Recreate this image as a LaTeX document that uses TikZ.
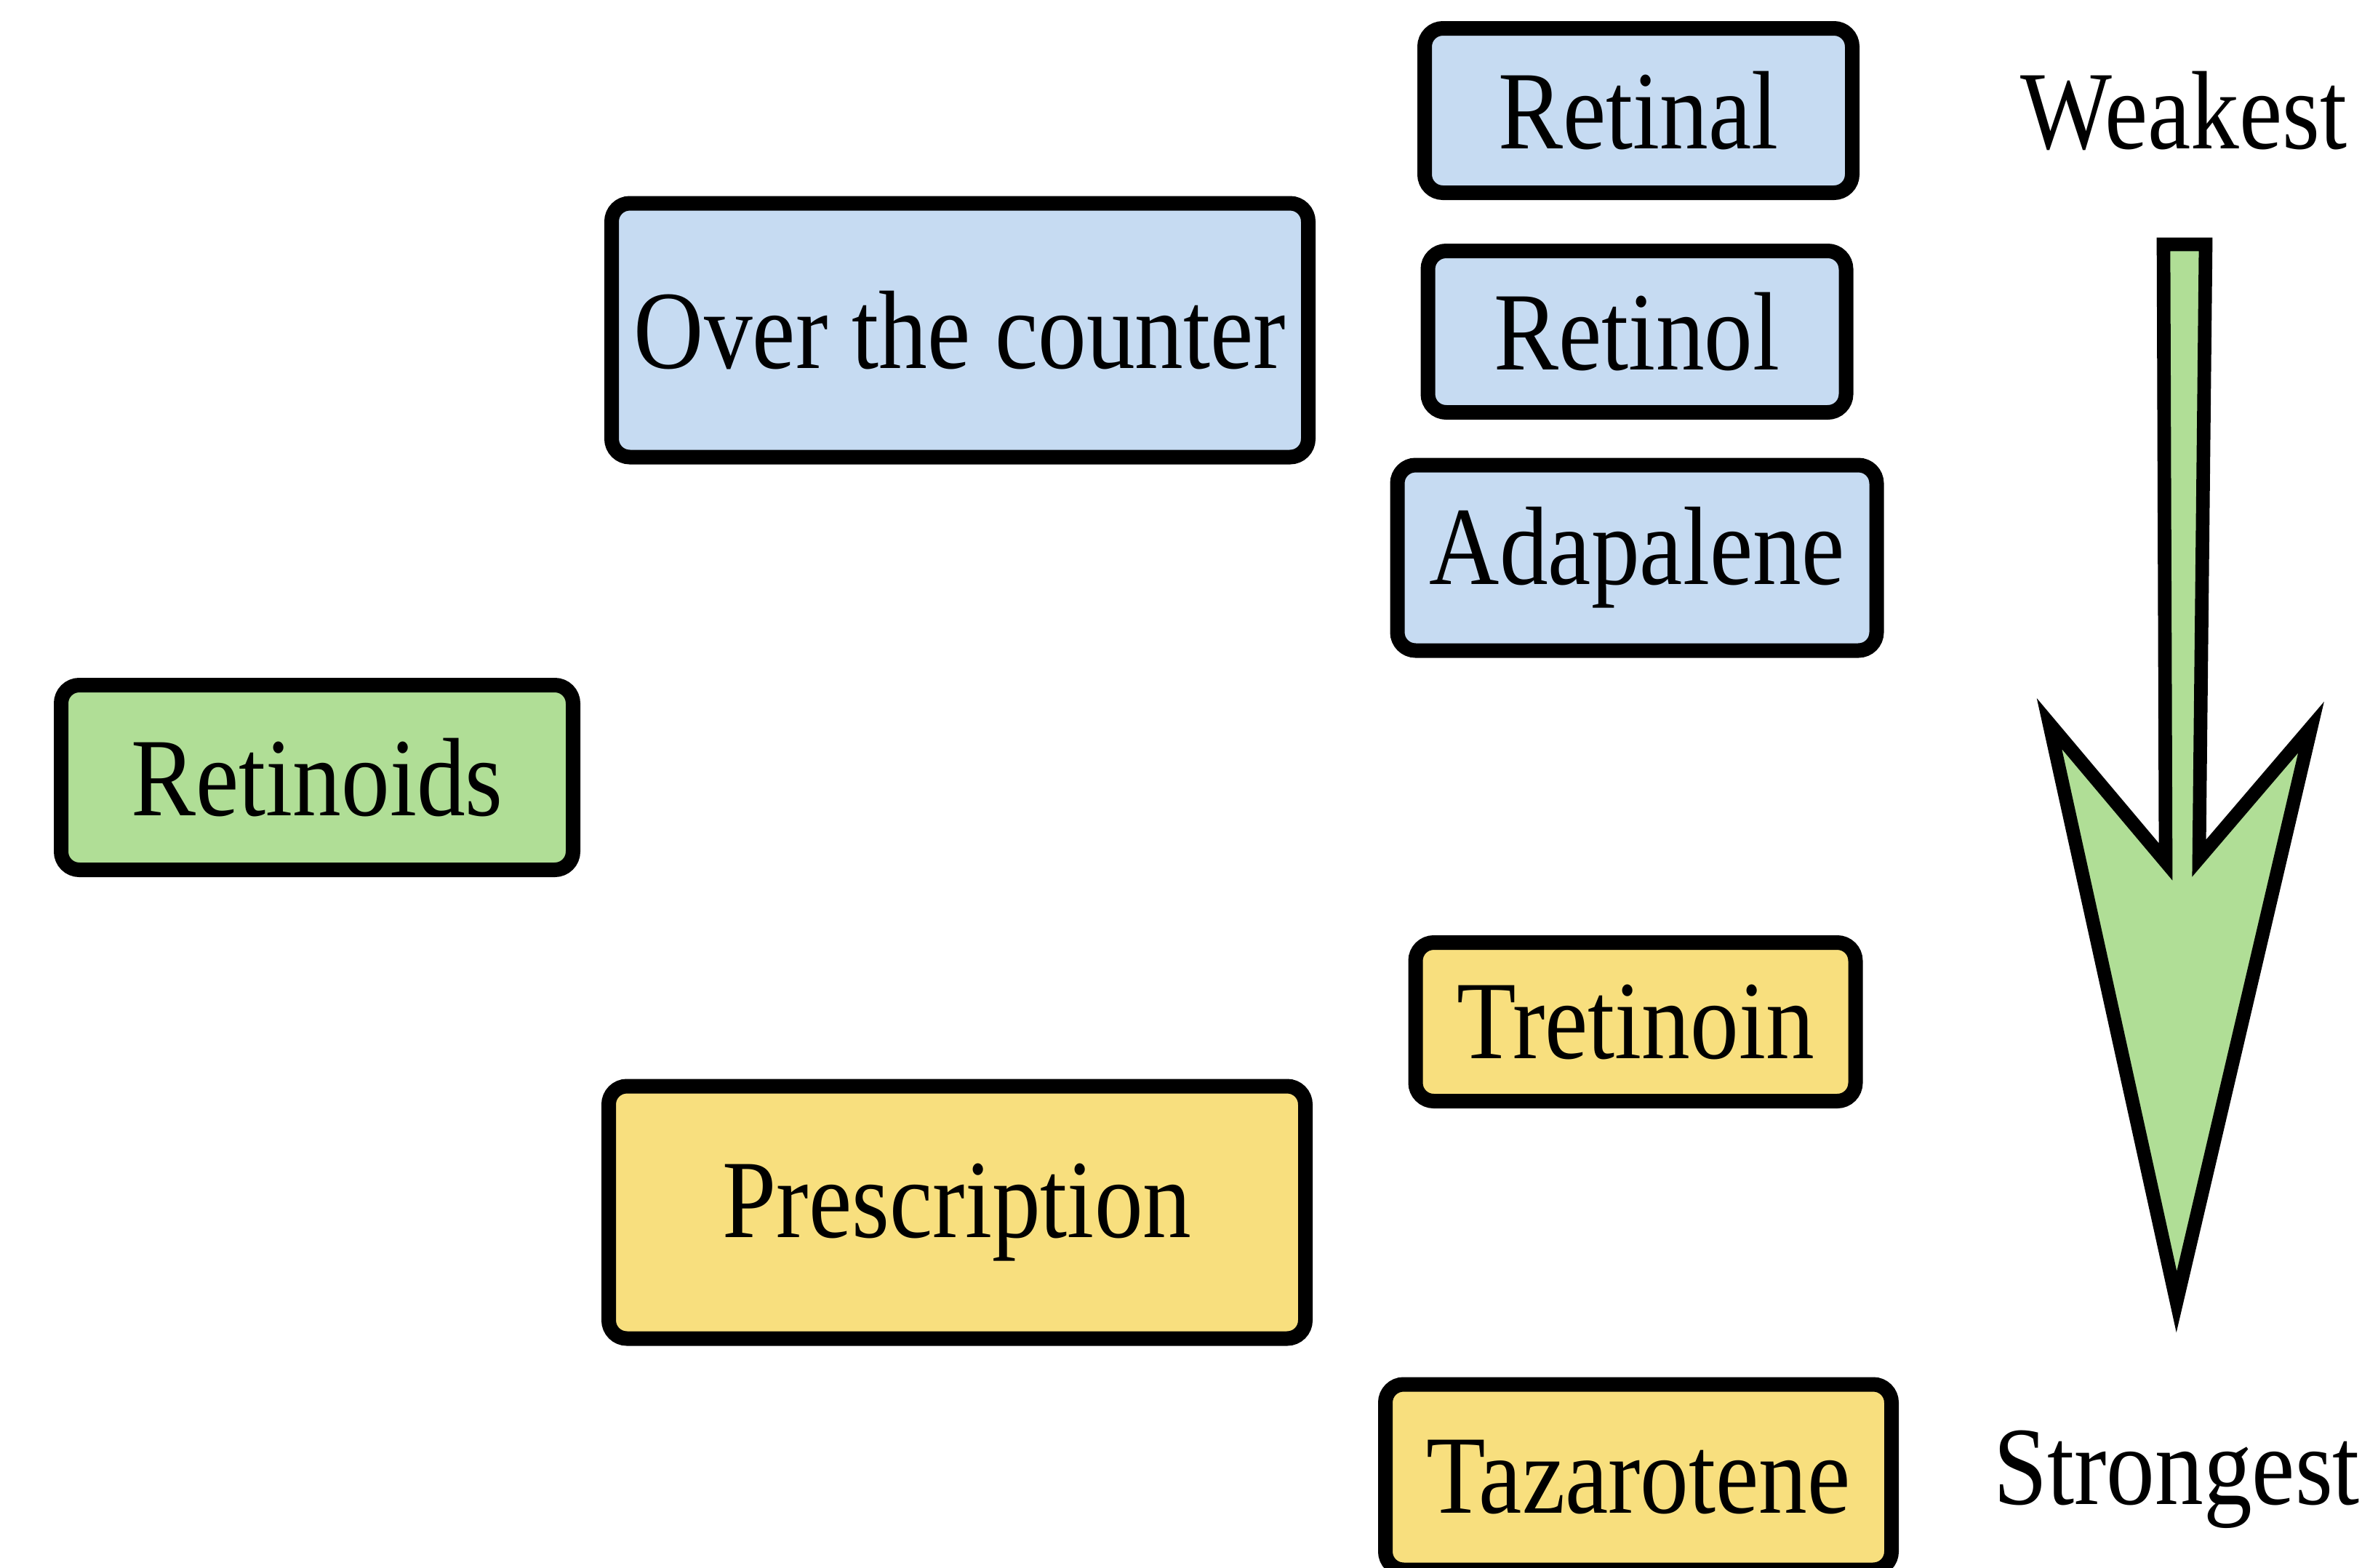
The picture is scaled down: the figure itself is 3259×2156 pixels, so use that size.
\documentclass[tikz,border=0pt]{standalone}
\usepackage{fontspec}
\setmainfont{Liberation Serif}
\definecolor{bluefill}{HTML}{C6DBF2}
\definecolor{greenfill}{HTML}{B0DE96}
\definecolor{yellowfill}{HTML}{F8DF7E}
\newcommand\cx[1]{\scalebox{0.87}[1]{#1}}
\tikzset{
  box/.style={draw=black, line width=6pt, rounded corners=7.5pt, inner sep=0pt,
    font=\fontsize{46}{55}\selectfont},
  wh/.style 2 args={minimum width=#1*0.3pt, minimum height=#2*0.3pt},
  lbl/.style={inner sep=0pt, anchor=base, font=\fontsize{46}{55}\selectfont},
  bigarrow/.style={draw=black, fill=greenfill, line width=5.6pt, line join=miter, miter limit=20}
}
\begin{document}
\begin{tikzpicture}[x=0.3pt, y=-0.3pt]
\useasboundingbox (0,0) rectangle (3259,2156);
\clip (0,0) rectangle (3259,2156);
\node[box, fill=bluefill, wh={588}{226}] (retinal) at (2253,152) {\cx{Retinal}};
\node[box, fill=bluefill, wh={575}{222}] (retinol) at (2251,456) {\cx{Retinol}};
\node[box, fill=bluefill, wh={659}{255}] (adapalene) at (2251,767) {\cx{Adapalene}};
\node[box, fill=bluefill, wh={958}{349}] (otc) at (1320,454) {\cx{Over the counter}};
\node[box, fill=greenfill, wh={704}{254}] (retinoids) at (436,1069) {\cx{Retinoids}};
\node[box, fill=yellowfill, wh={605}{218}] (tretinoin) at (2249,1405) {\cx{Tretinoin}};
\node[box, fill=yellowfill, wh={958}{347}] (prescription) at (1316,1667) {\cx{Prescription}};
\node[box, fill=yellowfill, wh={696}{255}] (tazarotene) at (2253,2031) {\cx{Tazarotene}};
\node[lbl] (weakest) at (3003,204) {\cx{Weakest}};
\node[lbl] (strongest) at (2993,2068) {\cx{Strongest}};
\draw[bigarrow] (2975,336) -- (3033,336) -- (3024,1180) -- (3178,1000) -- (2993,1790)
  -- (2818,995) -- (2978,1185) -- cycle;
\end{tikzpicture}
\end{document}
